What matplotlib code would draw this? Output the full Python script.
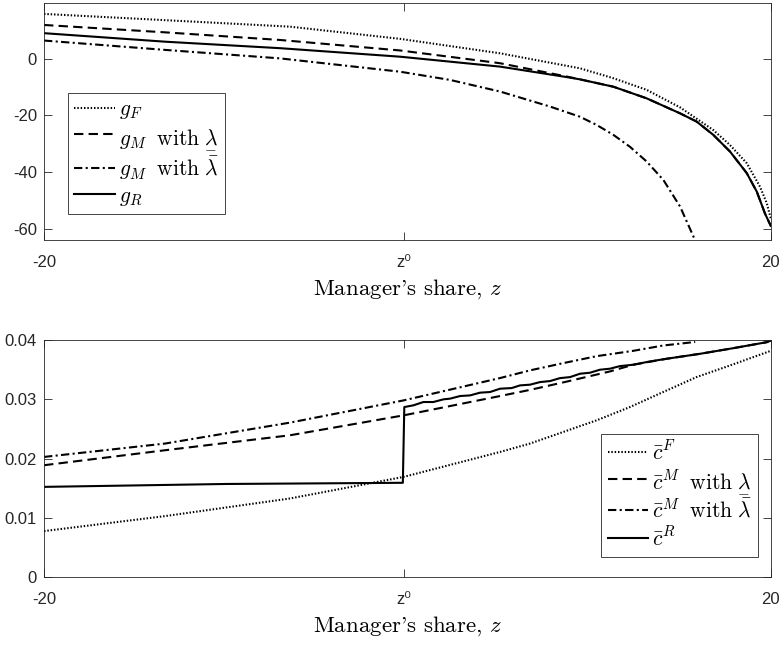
import matplotlib
matplotlib.use("Agg")
import matplotlib.pyplot as plt

plt.rcParams["font.family"] = ["Liberation Sans", "DejaVu Sans"]
plt.rcParams["mathtext.fontset"] = "cm"
plt.rcParams["axes.unicode_minus"] = False

# ---------------- top panel: growth rates ----------------
z_gF = [-20, -13.34, -6.46, -0.4, 5.10, 9.50, 11.34, 13.17, 15.01, 16.84,
        17.76, 18.68, 19.41, 19.78, 20]
g_F = [15.8, 13.6, 11.3, 7.0, 1.9, -3.4, -6.9, -11.0, -17.2, -25.2,
       -30.5, -36.9, -45.2, -51.0, -56.3]

z_gMlo = [-20, -13.34, -7.0, -0.4, 5.10, 8.77, 9.50, 11.34, 13.17, 15.01,
          15.92, 16.84, 17.76, 18.68, 19.23, 19.68, 20]
g_Mlo = [11.9, 9.3, 6.6, 2.9, -1.6, -6.3, -7.3, -9.9, -14.0, -19.3,
         -22.2, -26.9, -32.8, -40.4, -46.9, -54.6, -59.0]

z_gMhi = [-20, -13.34, -7.0, -0.4, 2.35, 5.10, 7.85, 9.50, 10.42, 11.34,
          12.25, 13.17, 14.09, 15.01, 15.83]
g_Mhi = [6.4, 3.1, 0.1, -4.6, -7.5, -11.6, -16.9, -20.5, -23.4, -26.9,
         -31.1, -36.3, -42.8, -52.2, -64.0]

z_gR = [-20, -13.34, -7.0, -0.4, 5.10, 8.77, 9.50, 11.34, 13.17, 15.01,
        15.92, 16.84, 17.76, 18.68, 19.23, 19.68, 20]
g_R = [9.0, 6.0, 3.7, 0.7, -2.8, -6.5, -7.3, -9.9, -14.0, -19.3,
       -22.2, -26.9, -32.8, -40.4, -46.9, -54.6, -59.0]

# ---------------- bottom panel: cutoffs ----------------
z_cF = [-20, -13.34, -6.46, -0.2, 5.10, 6.75, 8.58, 10.42, 12.25, 14.08,
        15.92, 17.76, 20]
c_F = [0.00774, 0.01027, 0.01325, 0.0169, 0.02111, 0.02253, 0.02449, 0.02646,
       0.0287, 0.03124, 0.03377, 0.03573, 0.0382]

z_cMlo = [-20, -13.34, -6.46, -0.2, 5.10, 6.75, 8.77, 11.15, 12.43, 14.27,
          16.11, 17.94, 19.78, 20]
c_Mlo = [0.01887, 0.0214, 0.02393, 0.0273, 0.03056, 0.0316, 0.0330, 0.03472,
         0.03585, 0.03686, 0.0377, 0.03865, 0.03966, 0.03995]

z_cMhi = [-20, -13.34, -6.46, -0.2, 5.10, 6.75, 8.70, 10.42, 12.43, 14.08, 15.84]
c_Mhi = [0.02027, 0.02253, 0.02607, 0.02983, 0.0336, 0.0349, 0.0362, 0.0373,
         0.0382, 0.0391, 0.0397]

z_cR = [-20, -10, -5, -0.25, -0.17, 0.33, 0.88, 1.43, 1.98, 2.35, 2.90, 3.45,
        4.00, 4.55, 5.10, 5.74, 6.20, 6.75, 7.30, 7.85, 8.40, 8.95, 9.50,
        10.05, 10.60, 11.15, 11.70, 12.43, 13.35, 14.27, 16.11, 17.94, 19.78, 20]
c_R = [0.01521, 0.0157, 0.0158, 0.0159, 0.0287, 0.02899, 0.02955, 0.02955,
       0.0300, 0.03012, 0.03056, 0.03067, 0.03113, 0.03124, 0.0318, 0.03191,
       0.03236, 0.03248, 0.03292, 0.03309, 0.03359, 0.03376, 0.03433, 0.0345,
       0.03501, 0.03518, 0.03562, 0.03585, 0.03641, 0.03686, 0.0377, 0.03865,
       0.03966, 0.03995]

z0 = -0.2
xticks = [-20, z0, 20]
xticklabels = ["-20", "z\u2070", "20"]

AX_COLOR = "#262626"
LS_DOT = (0, (0.7, 0.9))
LS_DASH = (0, (4.5, 2.5))
LS_DASHDOT = (0, (4, 1.6, 1, 1.6))

LAM_LO = r"\underset{-}{\lambda}"
LAM_HI = r"\bar{\lambda}"

fig = plt.figure(figsize=(7.82, 6.46), dpi=100)
ax1 = fig.add_axes([0.0563, 0.6285, 0.9293, 0.3664])
ax2 = fig.add_axes([0.0563, 0.1070, 0.9293, 0.3664])


def style_axes(ax):
    ax.set_xlim(-20, 20)
    ax.set_xticks(xticks)
    ax.set_xticklabels(xticklabels)
    ax.tick_params(direction="in", length=5.5, width=0.6, colors=AX_COLOR,
                   labelsize=12, top=True, right=True)
    ax.tick_params(axis="x", pad=11)
    ax.tick_params(axis="y", pad=5)
    for s in ax.spines.values():
        s.set_color(AX_COLOR)
        s.set_linewidth(0.6)
    ax.set_xlabel("Manager's share, $z$", fontfamily="cmr10", fontsize=16.5,
                  color="black", labelpad=5)


lw = 1.5
ax1.plot(z_gF, g_F, color="black", lw=lw, ls=LS_DOT, label=r"$g_F$")
ax1.plot(z_gMlo, g_Mlo, color="black", lw=lw, ls=LS_DASH,
         label=r"$g_M\;\ \mathrm{with}\ " + LAM_LO + "$")
ax1.plot(z_gMhi, g_Mhi, color="black", lw=lw, ls=LS_DASHDOT,
         label=r"$g_M\;\ \mathrm{with}\ " + LAM_HI + "$")
ax1.plot(z_gR, g_R, color="black", lw=lw, ls="-", label=r"$g_R$")
ax1.set_ylim(-64, 19.55)
ax1.set_yticks([-60, -40, -20, 0])
ax1.set_yticklabels(["-60", "-40", "-20", "0"])
style_axes(ax1)

ax2.plot(z_cF, c_F, color="black", lw=lw, ls=LS_DOT, label=r"$\bar{c}^F$")
ax2.plot(z_cMlo, c_Mlo, color="black", lw=lw, ls=LS_DASH,
         label=r"$\bar{c}^M\;\ \mathrm{with}\ " + LAM_LO + "$")
ax2.plot(z_cMhi, c_Mhi, color="black", lw=lw, ls=LS_DASHDOT,
         label=r"$\bar{c}^M\;\ \mathrm{with}\ " + LAM_HI + "$")
ax2.plot(z_cR, c_R, color="black", lw=lw, ls="-", label=r"$\bar{c}^R$")
ax2.set_ylim(0, 0.04)
ax2.set_yticks([0, 0.01, 0.02, 0.03, 0.04])
ax2.set_yticklabels(["0", "0.01", "0.02", "0.03", "0.04"])
style_axes(ax2)

leg_kw = dict(fontsize=15.5, frameon=True, fancybox=False, framealpha=1,
              edgecolor=AX_COLOR, handlelength=1.9, handletextpad=0.15,
              labelspacing=0.2, borderpad=0.3, borderaxespad=0)
leg1 = ax1.legend(loc="upper left", bbox_to_anchor=(0.033, 0.621), **leg_kw)
leg2 = ax2.legend(loc="lower right", bbox_to_anchor=(0.9825, 0.083), **leg_kw)
for leg in (leg1, leg2):
    leg.get_frame().set_linewidth(0.6)

fig.savefig("out.png", dpi=100)
